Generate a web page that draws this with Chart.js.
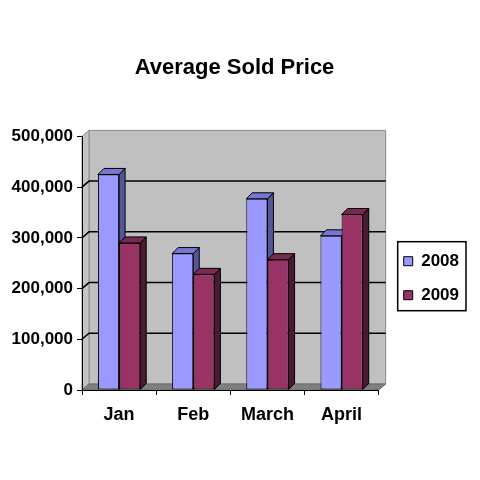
<!DOCTYPE html>
<html>
<head>
<meta charset="utf-8">
<style>
  html, body { margin: 0; padding: 0; background: #ffffff; }
  #wrap { width: 480px; height: 480px; }
</style>
<script src="https://cdn.jsdelivr.net/npm/chart.js@4.4.1/dist/chart.umd.min.js"></script>
</head>
<body>
<div id="wrap"><canvas id="soldPriceChart"></canvas></div>
<script>
"use strict";

const months = ["Jan", "Feb", "March", "April"];
const seriesNames = ["2008", "2009"];
const price2008 = [425000, 269000, 377000, 304000];
const price2009 = [290000, 228000, 257000, 346000];
const yMax = 500000;
const yStep = 100000;

const FONT = "'Liberation Sans', Arial, sans-serif";
const WALL_DX = 7, WALL_DY = -6;
const BAR_DX = 6, BAR_DY = -6;
const LEGEND_SHIFT = { x: 8, y: 15 };

const faceColors = [
  { front: "#9999ff", top: "#7777d2", side: "#555599" },
  { front: "#993366", top: "#7a2952", side: "#4c1933" }
];

function poly(ctx, pts, fill, stroke) {
  ctx.beginPath();
  ctx.moveTo(pts[0][0], pts[0][1]);
  for (let i = 1; i < pts.length; i++) ctx.lineTo(pts[i][0], pts[i][1]);
  ctx.closePath();
  if (fill) { ctx.fillStyle = fill; ctx.fill(); }
  if (stroke) { ctx.strokeStyle = stroke; ctx.lineWidth = 1; ctx.stroke(); }
}

const box3d = {
  id: "box3d",
  afterLayout(chart) {
    const lg = chart.legend;
    if (!lg) return;
    lg.left += LEGEND_SHIFT.x; lg.right += LEGEND_SHIFT.x;
    lg.top += LEGEND_SHIFT.y; lg.bottom += LEGEND_SHIFT.y;
  },
  beforeDraw(chart) {
    const { ctx, chartArea: a } = chart;
    const y = chart.scales.y;
    const L = a.left, R = a.right, T = a.top, B = a.bottom;
    ctx.save();
    // back wall, left wall, floor
    poly(ctx, [[L + WALL_DX, T + WALL_DY], [R + WALL_DX, T + WALL_DY], [R + WALL_DX, B + WALL_DY], [L + WALL_DX, B + WALL_DY]], "#c0c0c0", "#8a8a8a");
    poly(ctx, [[L, T], [L + WALL_DX, T + WALL_DY], [L + WALL_DX, B + WALL_DY], [L, B]], "#c4c4c4", "#8a8a8a");
    poly(ctx, [[L, B], [L + WALL_DX, B + WALL_DY], [R + WALL_DX, B + WALL_DY], [R, B]], "#808080", "#6a6a6a");
    // gridlines on the walls
    ctx.strokeStyle = "#000000";
    ctx.lineWidth = 1.5;
    y.ticks.forEach((t) => {
      if (t.value <= 0 || t.value >= yMax) return;
      const py = y.getPixelForValue(t.value);
      ctx.beginPath();
      ctx.moveTo(L, py);
      ctx.lineTo(L + WALL_DX, py + WALL_DY);
      ctx.lineTo(R + WALL_DX, py + WALL_DY);
      ctx.stroke();
    });
    ctx.restore();
  },
  beforeDatasetsDraw(chart) {
    const ctx = chart.ctx;
    const n = chart.data.labels.length;
    ctx.save();
    ctx.lineJoin = "round";
    for (let j = 0; j < n; j++) {
      chart.data.datasets.forEach((ds, i) => {
        const bar = chart.getDatasetMeta(i).data[j];
        const c = faceColors[i];
        const x0 = bar.x - bar.width / 2, x1 = bar.x + bar.width / 2;
        const top = bar.y, base = bar.base;
        poly(ctx, [[x1, top], [x1 + BAR_DX, top + BAR_DY], [x1 + BAR_DX, base + BAR_DY], [x1, base]], c.side, "#000000");
        poly(ctx, [[x0, top], [x0 + BAR_DX, top + BAR_DY], [x1 + BAR_DX, top + BAR_DY], [x1, top]], c.top, "#000000");
      });
    }
    ctx.restore();
  },
  afterDraw(chart) {
    const lg = chart.legend;
    if (!lg || !lg.legendHitBoxes.length) return;
    const hb = lg.legendHitBoxes;
    const l = Math.min(...hb.map((h) => h.left)) - 6;
    const r = Math.max(...hb.map((h) => h.left + h.width)) + 7;
    const t = Math.min(...hb.map((h) => h.top)) - 11;
    const b = Math.max(...hb.map((h) => h.top + h.height)) + 7;
    const ctx = chart.ctx;
    ctx.save();
    ctx.strokeStyle = "#000000";
    ctx.lineWidth = 1.5;
    ctx.strokeRect(l, t, r - l, b - t);
    ctx.restore();
  }
};

new Chart(document.getElementById("soldPriceChart"), {
  type: "bar",
  data: {
    labels: months,
    datasets: [
      {
        label: seriesNames[0],
        data: price2008,
        backgroundColor: faceColors[0].front,
        borderColor: "#000000",
        borderWidth: 1,
        borderSkipped: false
      },
      {
        label: seriesNames[1],
        data: price2009,
        backgroundColor: faceColors[1].front,
        borderColor: "#000000",
        borderWidth: 1,
        borderSkipped: false
      }
    ]
  },
  options: {
    responsive: true,
    maintainAspectRatio: false,
    animation: false,
    categoryPercentage: 0.57,
    barPercentage: 1,
    layout: { padding: { left: 8, right: 19, top: 0, bottom: 0 } },
    scales: {
      x: {
        afterFit: (s) => { s.height = 90; },
        grid: { drawOnChartArea: false, color: "#000000", tickLength: 5 },
        border: { color: "#000000", width: 1 },
        ticks: { color: "#000000", padding: 9, font: { family: FONT, size: 18, weight: "bold" } }
      },
      y: {
        min: 0,
        max: yMax,
        afterFit: (s) => { s.width = 74; },
        grid: { drawOnChartArea: false, color: "#000000", tickLength: 5 },
        border: { color: "#000000", width: 1 },
        ticks: { stepSize: yStep, color: "#000000", padding: 4, font: { family: FONT, size: 17, weight: "bold" } }
      }
    },
    plugins: {
      title: {
        display: true,
        text: "Average Sold Price",
        color: "#000000",
        font: { family: FONT, size: 22, weight: "bold" },
        padding: { top: 55, bottom: 55 }
      },
      legend: {
        position: "right",
        fullSize: false,
        labels: {
          boxWidth: 9,
          boxHeight: 9,
          padding: 17,
          color: "#000000",
          font: { family: FONT, size: 17, weight: "bold" }
        }
      },
      tooltip: { enabled: false }
    }
  },
  plugins: [box3d]
});
</script>
</body>
</html>
